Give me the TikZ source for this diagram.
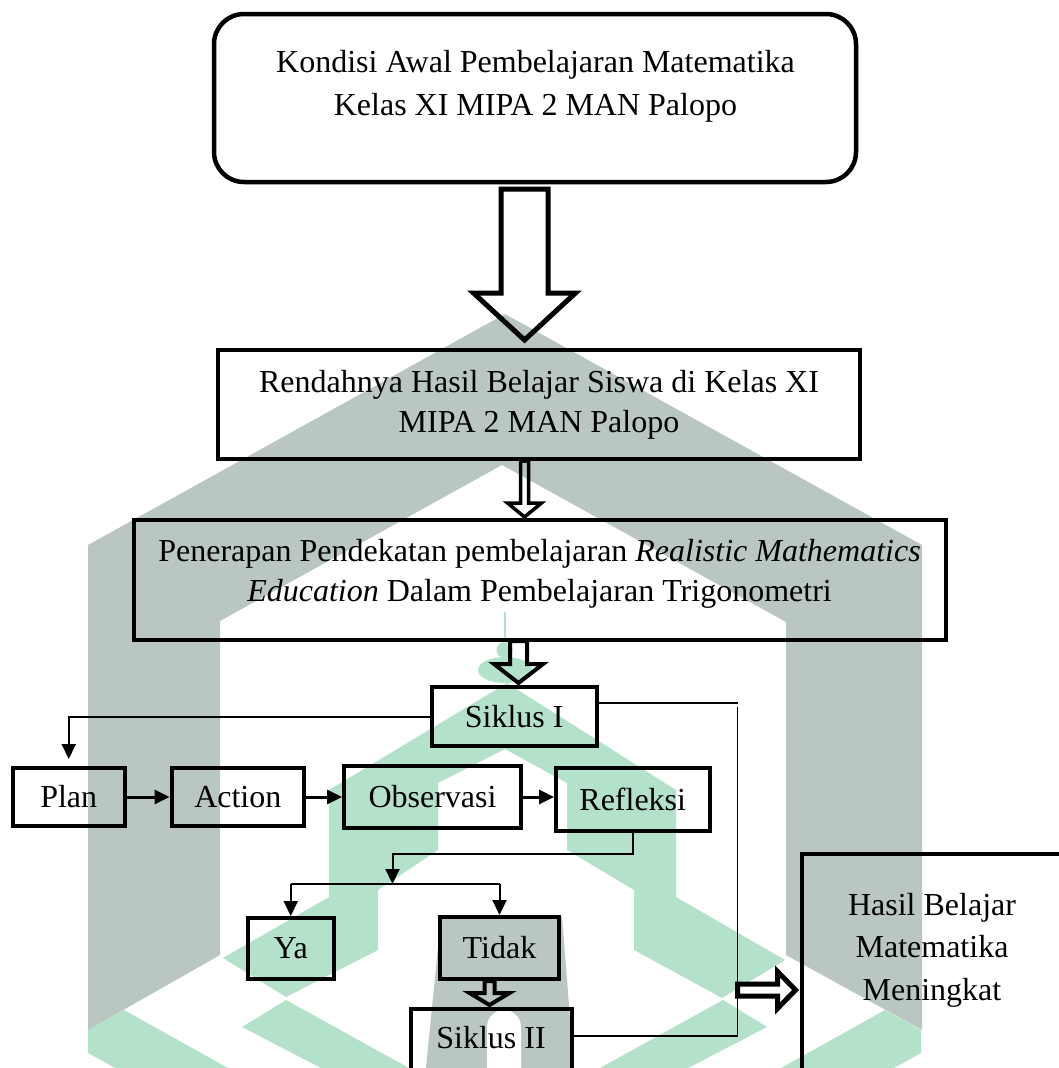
\documentclass[tikz,border=0pt]{standalone}
\usepackage{fontspec}
\setmainfont{Liberation Serif}
\usetikzlibrary{arrows.meta}

\definecolor{wmgray}{RGB}{185,198,193}
\definecolor{wmgreen}{RGB}{179,225,202}

% hollow block arrow pointing down: top centre, shaft length, half shaft, half head, head length, line width
\newcommand{\blockdown}[6]{%
  \draw[line width=#6, line join=miter] (#1) ++(-#3,0) -- ++(0,#2) -- ++(#3-#4,0)
    -- ++(#4,#5) -- ++(#4,-#5) -- ++(#3-#4,0) -- ++(0,-#2) -- cycle;}
% the same, pointing right: left centre first
\newcommand{\blockright}[6]{%
  \draw[line width=#6, line join=miter] (#1) ++(0,-#3) -- ++(#2,0) -- ++(0,#3-#4)
    -- ++(#5,#4) -- ++(-#5,#4) -- ++(0,#3-#4) -- ++(-#2,0) -- cycle;}

\begin{document}
\begin{tikzpicture}[x=1pt, y=-1pt,
    box/.style={draw, line width=4.5pt, inner sep=0pt},
    lbl/.style={font=\fontsize{32}{40}\selectfont},
    link/.style={line width=1.6pt},
    link2/.style={line width=2pt},
    arr/.style={-{Triangle[length=15pt,width=14pt]}}]
    \useasboundingbox (0,0) rectangle (1059,1068);
    \clip (0,0) rectangle (1059,1068);

    % watermark
    \fill[wmgreen] (504,612) rectangle (505.5,645);
    \fill[wmgreen] (504.5,650) circle (8);
    \fill[wmgreen] (505,670) ellipse (27 and 13);
    \fill[wmgreen] (507,683) -- (676,790) -- (676,897) -- (785,960) -- (722,998) -- (634,950)
        -- (634,890) -- (567,850) -- (567,783) -- (505,749) -- (438,783) -- (438,850)
        -- (378,890) -- (378,950) -- (286,997) -- (223,958) -- (329,897) -- (329,790) -- cycle;
    \fill[wmgreen] (242,1027) -- (286,1000) -- (409,1068) -- (321,1068) -- cycle;
    \fill[wmgreen] (767,1027) -- (723,1000) -- (600,1068) -- (688,1068) -- cycle;
    \fill[wmgreen] (88,1030) -- (124,1010) -- (228,1068) -- (115,1068) -- (88,1053) -- cycle;
    \fill[wmgreen] (921,1030) -- (885,1010) -- (781,1068) -- (894,1068) -- (921,1053) -- cycle;
    \fill[wmgray] (505,314) -- (922,545) -- (922,1030) -- (786,955) -- (786,622) -- (502,465)
        -- (220,621) -- (220,955) -- (88,1030) -- (88,545) -- cycle;
    \fill[wmgray] (441,917) -- (562,917) -- (574,1068) -- (426,1068) -- cycle;
    \fill[white] (487,1070) -- (487,1027) arc (180:360:17) -- (521,1070) -- cycle;

    % boxes
    \node[box, rounded corners=30pt, minimum width=642pt, minimum height=168pt] (kondisi) at (535,98) {};
    \node[lbl, align=center, font=\fontsize{32}{43}\selectfont] (kondisiT) at (535.5,86)
        {Kondisi Awal Pembelajaran Matematika\\Kelas XI MIPA 2 MAN Palopo};
    \node[box, lbl, align=center, minimum width=642pt, minimum height=109pt] (rendah) at (539,404.5)
        {Rendahnya Hasil Belajar Siswa di Kelas XI\\MIPA 2 MAN Palopo};
    \node[box, minimum width=812pt, minimum height=120pt] (terap) at (540,580) {};
    \node[lbl, align=center] (terapT) at (539.5,573.5)
        {Penerapan Pendekatan pembelajaran \textit{Realistic Mathematics}\\\textit{Education} Dalam Pembelajaran Trigonometri};
    \node[box, lbl, line width=4pt, minimum width=165.5pt, minimum height=59pt] (siklus1) at (514.25,716.5) {Siklus I};
    \node[box, lbl, line width=4pt, minimum width=112.5pt, minimum height=58pt] (plan) at (68.75,797) {Plan};
    \node[box, lbl, line width=4pt, minimum width=132.4pt, minimum height=58pt] (action) at (237.8,797) {Action};
    \node[box, lbl, line width=4pt, minimum width=177pt, minimum height=62pt] (observ) at (432.5,797) {Observasi};
    \node[box, lbl, line width=4pt, minimum width=153.5pt, minimum height=62.5pt] (reflek) at (632.75,799.25) {Refleksi};
    \node[box, lbl, line width=4pt, minimum width=86.5pt, minimum height=61pt] (ya) at (290.75,948.5) {Ya};
    \node[box, lbl, line width=4pt, minimum width=119pt, minimum height=62pt] (tidak) at (499.5,948) {Tidak};
    \node[box, line width=4pt, minimum width=160.6pt, minimum height=101.3pt] (siklus2) at (491.3,1059.35) {};
    \node[lbl, anchor=base] (siklus2T) at (491,1048) {Siklus II};
    \node[box, minimum width=288pt, minimum height=256pt] (hasil) at (946,982) {};
    \node[lbl, align=center, font=\fontsize{32}{42.5}\selectfont] (hasilT) at (932,950)
        {Hasil Belajar\\Matematika\\Meningkat};

    % hollow arrows
    \coordinate (b1) at (524.5,189);
    \coordinate (b2) at (524.5,461);
    \coordinate (b3) at (518.5,641);
    \coordinate (b4) at (489.5,981);
    \coordinate (b5) at (737.5,990);
    \blockdown{b1}{104}{23.5}{51}{47}{5pt}
    \blockdown{b2}{42}{4}{17}{14}{3.5pt}
    \blockdown{b3}{23}{8.5}{24.5}{19}{4pt}
    \blockdown{b4}{12}{5}{20}{12}{4pt}
    \blockright{b5}{40}{6}{18.5}{18}{5pt}

    % thin connectors
    \coordinate (busA) at (737.5,703);
    \coordinate (busB) at (737.5,707);
    \coordinate (busC) at (737.5,1036);
    \coordinate (turn) at (392.5,854);
    \coordinate (split) at (392.5,884);

    \draw[link2, arr, shorten >=7pt] (siklus1.west) -| (plan.north);
    \draw[link] (siklus1.east |- busA) -- (busA);
    \draw[link] (busB) -- (busC);
    \draw[link] (siklus2.east |- busC) -- (busC);
    \draw[line width=3pt, arr] (plan) -- (action);
    \draw[line width=3pt, arr] (action) -- (observ.west |- action);
    \draw[line width=3pt, arr] (observ) -- (reflek.west |- observ);
    \draw[link2, arr] (reflek.south) |- (turn) -- (split);
    \draw[link2] (ya.north |- split) -- (tidak.north |- split);
    \draw[link2, arr] (ya.north |- split) -- (ya.north);
    \draw[link2, arr] (tidak.north |- split) -- (tidak.north);
\end{tikzpicture}
\end{document}
